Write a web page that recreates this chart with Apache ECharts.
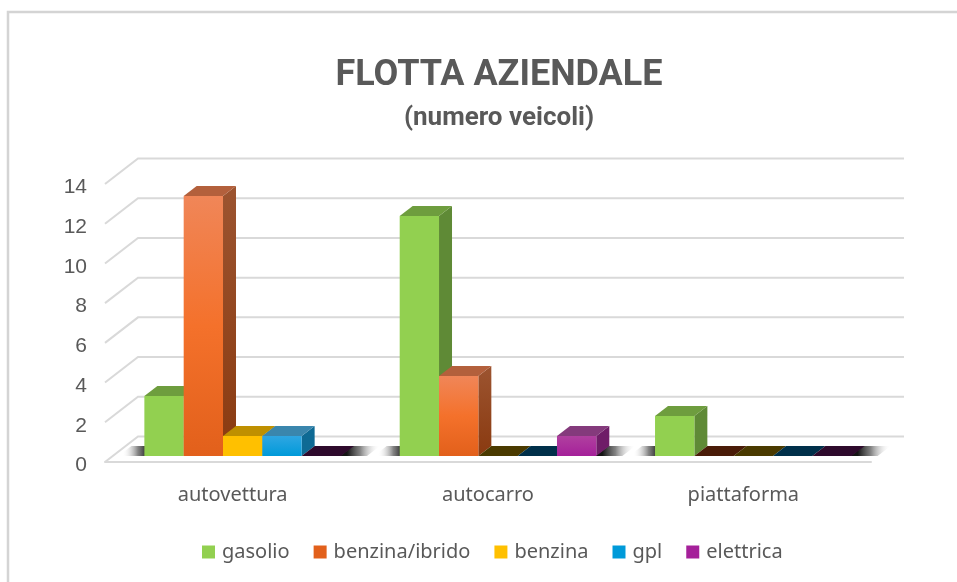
<!DOCTYPE html>
<html><head><meta charset="utf-8">
<style>html,body{margin:0;padding:0;background:#fff}#c{width:957px;height:582px}</style>
<script src="https://cdn.jsdelivr.net/npm/echarts@6/dist/echarts.min.js"></script>
</head><body><div id="c"></div>
<script>
const categories = ['autovettura', 'autocarro', 'piattaforma'];
const gasolio = [3, 12, 2];
const benzinaIbrido = [13, 4, 0];
const benzina = [1, 0, 0];
const gpl = [1, 0, 0];
const elettrica = [0, 1, 0];
const yTicks = [0, 2, 4, 6, 8, 10, 12, 14];

const fuels = [
  { name: 'gasolio', values: gasolio, front: ['#92d050', '#92d050'], side: ['#5f8a36', '#5f8a36'], top: '#6e9d3e', flat: '#2f4a18' },
  { name: 'benzina/ibrido', values: benzinaIbrido, front: ['#f08658', '#f4712b', '#e2601b'], side: ['#9c5430', '#8a3a10'], top: '#b3603c', flat: '#4a1c08' },
  { name: 'benzina', values: benzina, front: ['#ffc000', '#ffc000'], side: ['#b88a00', '#b88a00'], top: '#bf9000', flat: '#4a3a00' },
  { name: 'gpl', values: gpl, front: ['#2fa6e2', '#009ad9'], side: ['#0e6a94', '#0e6a94'], top: '#3a86ad', flat: '#00304a' },
  { name: 'elettrica', values: elettrica, front: ['#b0409f', '#a5209a'], side: ['#6f1d68', '#6f1d68'], top: '#843a7c', flat: '#2e0a2c' }
];

const BAR_SHARE = 0.154, PLANE_X = 10, PLANE_Y = -6, DEPTH_X = 13, DEPTH_Y = -10, WALL_X = 33, WALL_Y = -25.5;
const grey = '#595959', gridGrey = '#d9d9d9';

function barRender(fuelIndex) {
  const f = fuels[fuelIndex];
  return function (params, api) {
    const cat = api.value(0), val = api.value(1);
    const base = api.coord([cat, 0]), topP = api.coord([cat, val]);
    const w = api.size([1, 0])[0] * BAR_SHARE;
    const x0 = base[0] + PLANE_X + (fuelIndex - 2.5) * w, x1 = x0 + w;
    const y0 = base[1] + PLANE_Y, y1 = y0 - (base[1] - topP[1]) * 1.007;
    const poly = (points, fill) => ({ type: 'polygon', shape: { points }, style: { fill }, silent: true });
    if (val === 0) {
      return { type: 'group', children: [poly([[x0, y0], [x1, y0], [x1 + DEPTH_X, y0 + DEPTH_Y], [x0 + DEPTH_X, y0 + DEPTH_Y]], f.flat)] };
    }
    const vert = cols => new echarts.graphic.LinearGradient(0, 0, 0, 1, cols.map((c, i) => ({ offset: i / (cols.length - 1), color: c })));
    return { type: 'group', children: [
      poly([[x1, y0], [x1 + DEPTH_X, y0 + DEPTH_Y], [x1 + DEPTH_X, y1 + DEPTH_Y], [x1, y1]], vert(f.side)),
      poly([[x0, y1], [x1, y1], [x1 + DEPTH_X, y1 + DEPTH_Y], [x0 + DEPTH_X, y1 + DEPTH_Y]], f.top),
      poly([[x0, y0], [x1, y0], [x1, y1], [x0, y1]], vert(f.front))
    ] };
  };
}

function wallRender(params, api) {
  const p = api.coord([0, api.value(0)]);
  const size = api.size([1, 0])[0] * categories.length;
  const x = p[0] - api.size([1, 0])[0] / 2, y = p[1];
  const style = { stroke: gridGrey, lineWidth: 2, fill: 'none' };
  return { type: 'group', children: [
    { type: 'polyline', shape: { points: [[x, y], [x + WALL_X, y + WALL_Y], [x + WALL_X + size, y + WALL_Y]] }, style, silent: true }
  ] };
}

function shadowRender(params, api) {
  const base = api.coord([api.value(0), 0]);
  const w = api.size([1, 0])[0] * BAR_SHARE;
  const L = base[0] + PLANE_X - 2.5 * w, R = base[0] + PLANE_X + 2.5 * w, y0 = base[1] + PLANE_Y, y1 = y0 + DEPTH_Y;
  const S = 26;
  const dark = 'rgba(20,20,20,1)', mid = 'rgba(90,90,90,0.75)', clear = 'rgba(255,255,255,0)';
  const shade = (xa, xb) => new echarts.graphic.LinearGradient(xa, 0, xb, 0, [
    { offset: 0, color: dark }, { offset: 0.4, color: mid }, { offset: 1, color: clear }], true);
  return { type: 'group', children: [
    { type: 'polygon', silent: true, shape: { points: [[L - S, y0], [L + 2, y0], [L + DEPTH_X + 2, y1], [L - S + DEPTH_X, y1]] },
      style: { fill: shade(L + 4, L - S + 4) } },
    { type: 'polygon', silent: true, shape: { points: [[R - 1, y0], [R + S, y0], [R + S + DEPTH_X, y1], [R + DEPTH_X - 1, y1]] },
      style: { fill: shade(R + 6, R + S + DEPTH_X) } }
  ] };
}

const series = [
  { name: 'pareti', type: 'custom', coordinateSystem: 'cartesian2d', renderItem: wallRender, data: yTicks.map(v => [v]), encode: { y: 0 }, silent: true, z: 1 },
  { name: 'ombra', type: 'custom', renderItem: shadowRender, data: categories.map((c, i) => [i]), encode: { x: 0 }, silent: true, z: 2 }
].concat(fuels.map((f, i) => ({
  name: f.name, type: 'custom', renderItem: barRender(i), z: 3,
  itemStyle: { color: f.front[f.front.length - 1] },
  encode: { x: 0, y: 1 },
  data: f.values.map((v, c) => [c, v])
})));

const chart = echarts.init(document.getElementById('c'), null, { renderer: 'canvas' });
chart.setOption({
  animation: false,
  backgroundColor: '#fff',
  graphic: [
    { type: 'polyline', shape: { points: [[8, 582], [8, 12], [957, 12]] }, style: { stroke: '#d4d4d4', lineWidth: 2.5, fill: 'none' }, silent: true }
  ],
  title: [
    { text: 'FLOTTA AZIENDALE', left: 494, top: 53, textAlign: 'center',
      textStyle: { fontFamily: 'Roboto', fontWeight: 'bold', fontSize: 36, color: grey } },
    { text: '(numero veicoli)', left: 494, top: 100, textAlign: 'center',
      textStyle: { fontFamily: 'Roboto', fontWeight: 'bold', fontSize: 26, color: grey } }
  ],
  legend: {
    data: fuels.map(f => f.name), left: 197, top: 537, icon: 'rect', itemWidth: 13, itemHeight: 13, itemGap: 24,
    textStyle: { fontFamily: 'Noto Sans', fontSize: 20, color: grey, padding: [0, 0, 0, 2] }
  },
  grid: { left: 105, top: 184, width: 766, height: 278 },
  xAxis: {
    type: 'category', data: categories,
    axisLine: { show: true, lineStyle: { color: gridGrey, width: 2 } }, axisTick: { show: false },
    axisLabel: { fontFamily: 'Noto Sans', fontSize: 20, color: grey, margin: 23 }
  },
  yAxis: {
    type: 'value', min: 0, max: 14, interval: 2,
    axisLine: { show: false }, axisTick: { show: false }, splitLine: { show: false },
    axisLabel: { fontFamily: 'Liberation Sans', fontSize: 21, color: grey, margin: 18, verticalAlign: 'top', lineHeight: 7 }
  },
  series
});
</script></body></html>
